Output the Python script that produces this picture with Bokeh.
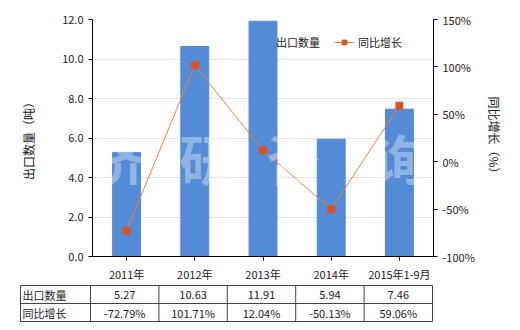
from bokeh.plotting import figure
from bokeh.models import (FactorRange, Range1d, LinearAxis, NumeralTickFormatter,
                          FixedTicker, PrintfTickFormatter, Label, ColumnDataSource)
from bokeh.layouts import column
from bokeh.embed import file_html
from bokeh.resources import INLINE
from bokeh.core.properties import value

categories = ["2011年", "2012年", "2013年", "2014年", "2015年1-9月"]
export_qty = [5.27, 10.63, 11.91, 5.94, 7.46]
yoy_growth = [-72.79, 101.71, 12.04, -50.13, 59.06]
qty_labels = ["5.27", "10.63", "11.91", "5.94", "7.46"]
growth_labels = ["-72.79%", "101.71%", "12.04%", "-50.13%", "59.06%"]
left_ticks = [0, 2, 4, 6, 8, 10, 12]
right_ticks = [-100, -50, 0, 50, 100, 150]
series_names = ["出口数量", "同比增长"]
left_title = "出口数量（吨）"
right_title = "同比增长（%）"
watermark = ["济", "研", "咨", "询"]

FONT = "Noto Sans CJK SC"
BAR = "#538bd6"
LINE = "#ec8136"
MARK = "#d9541c"

p = figure(x_range=FactorRange(*categories), y_range=Range1d(0, 12),
           width=520, height=284,
           min_border_left=92, min_border_right=87, min_border_top=19, min_border_bottom=25,
           output_backend="svg", toolbar_location=None)
p.frame_align = False
p.extra_y_ranges = {"pct": Range1d(-100, 150)}

p.vbar(x=categories, top=export_qty, width=0.41, color=BAR, legend_label=series_names[0])

# watermark
wm_x = [0.38, 1.67, 2.95, 4.5]
for ch, xx in zip(watermark, wm_x):
    p.add_layout(Label(x=xx, y=5.0, text=ch, text_font=FONT, text_font_size="54px",
                       text_font_style="bold", text_color="white", text_alpha=0.35,
                       text_align="center", text_baseline="middle"))

p.line(categories, yoy_growth, y_range_name="pct", color=LINE, line_width=1,
       legend_label=series_names[1])
p.scatter(categories, yoy_growth, y_range_name="pct", marker="square", size=7,
          color=MARK, legend_label=series_names[1])

# axes
p.xgrid.visible = False
p.ygrid.grid_line_color = "#e3e3e3"
p.ygrid.ticker = FixedTicker(ticks=left_ticks)
p.outline_line_color = None

ya = p.yaxis[0]
ya.ticker = FixedTicker(ticks=left_ticks)
ya.formatter = NumeralTickFormatter(format="0.0")
ya.axis_label = left_title
ya.axis_label_standoff = 22

ra = LinearAxis(y_range_name="pct", ticker=FixedTicker(ticks=right_ticks),
                formatter=PrintfTickFormatter(format="%d%%"), axis_label=right_title)
ra.axis_label_standoff = 8
p.add_layout(ra, "right")

for ax in [p.xaxis[0], ya, ra]:
    ax.axis_line_color = "black"
    ax.major_tick_line_color = "black"
    ax.major_tick_out = 4
    ax.major_tick_in = 0
    ax.minor_tick_line_color = None
    ax.major_label_text_font = FONT
    ax.major_label_text_font_size = "11px"
    ax.major_label_text_color = "#222222"
    ax.axis_label_text_font = FONT
    ax.axis_label_text_font_size = "12px"
    ax.axis_label_text_font_style = "normal"
    ax.axis_label_text_color = "#222222"
p.xaxis[0].major_label_standoff = 5

lg = p.legend[0]
lg.orientation = "horizontal"
lg.location = (160, 206)
lg.background_fill_alpha = 0
lg.border_line_alpha = 0
lg.label_text_font = FONT
lg.label_text_font_size = "11px"
lg.label_text_color = "#222222"
lg.glyph_width = 20
lg.glyph_height = 12
lg.label_standoff = 4
lg.spacing = 14
lg.padding = 0
lg.margin = 0

# table
t = figure(width=520, height=46, x_range=Range1d(0, 520), y_range=Range1d(46, 0),
           min_border=0, output_backend="svg", toolbar_location=None)
t.frame_align = False
t.axis.visible = False
t.grid.visible = False
t.outline_line_color = None

n = len(categories)
x0, x1, cw = 20, 90, 68.4
rows = [1, 19, 37]
hx0 = [x0] * 3
hx1 = [x1 + cw * n] * 3
t.segment(x0=hx0, y0=rows, x1=hx1, y1=rows, color="#444444", line_width=1)
vx = [x0] + [x1 + cw * i for i in range(n + 1)]
t.segment(x0=vx, y0=[rows[0]] * len(vx), x1=vx, y1=[rows[2]] * len(vx), color="#444444", line_width=1)

centers = [x1 + cw * (i + 0.5) for i in range(n)]
src = ColumnDataSource(dict(x=centers * 2, y=[10] * n + [28] * n, txt=qty_labels + growth_labels))
t.text(x="x", y="y", text="txt", source=src, text_font=value(FONT), text_font_size="11px",
       text_align="center", text_baseline="middle", text_color="#222222")
t.text(x=[x0 + 2] * 2, y=[10, 28], text=series_names, text_font=value(FONT), text_font_size="11px",
       text_align="left", text_baseline="middle", text_color="#222222")

layout = column(p, t, spacing=0)
open("out.html", "w").write(file_html(layout, INLINE))
